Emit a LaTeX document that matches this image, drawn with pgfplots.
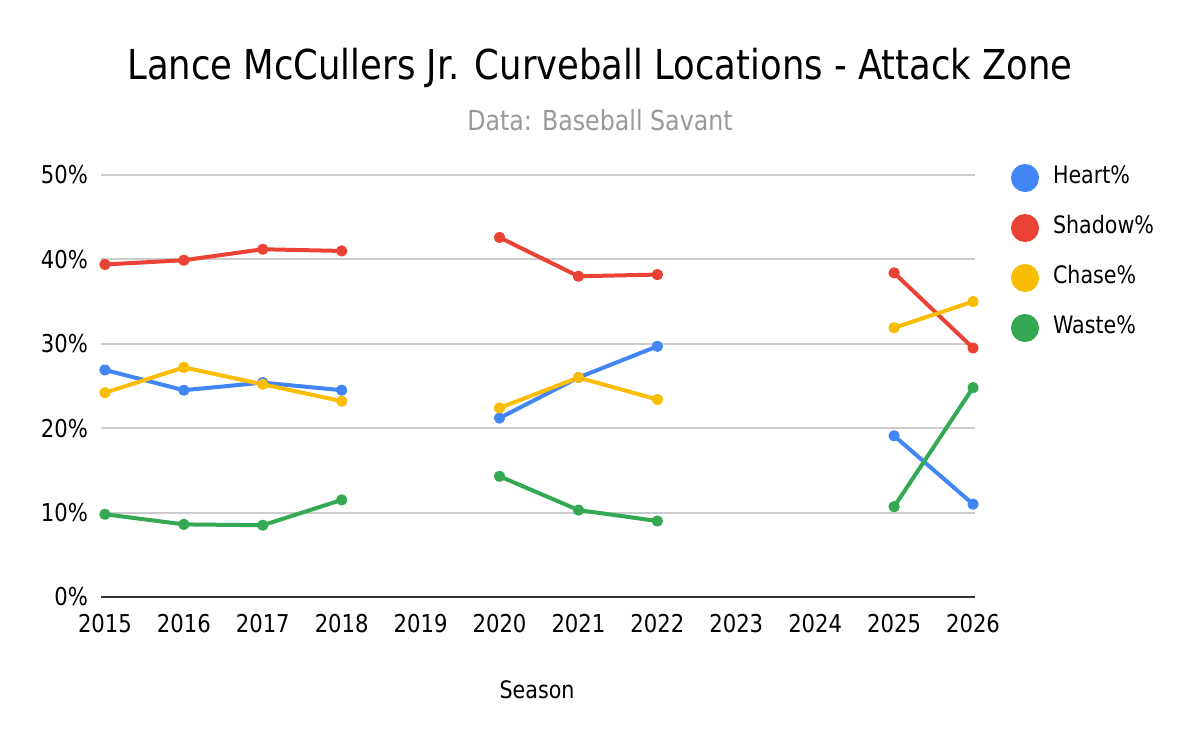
\documentclass[border=0pt]{standalone}
\usepackage{pgfplots}
\pgfplotsset{compat=1.18}
\usepackage{pgfplotstable}
\usepackage{fontspec}
\setmainfont{DejaVu Sans}[FakeStretch=0.86]

\definecolor{heart}{HTML}{4285F4}
\definecolor{shadow}{HTML}{EA4335}
\definecolor{chase}{HTML}{FBBC04}
\definecolor{waste}{HTML}{34A853}
\definecolor{gridgray}{HTML}{CCCCCC}
\definecolor{basegray}{HTML}{333333}
\definecolor{subgray}{HTML}{999999}

% Attack-zone shares of curveballs by season (percent); nan marks seasons without data
\pgfplotstableread{
year heart shadow chase waste
2015 26.9 39.4 24.2 9.8
2016 24.5 39.9 27.2 8.6
2017 25.4 41.2 25.2 8.5
2018 24.5 41.0 23.2 11.5
2019 nan  nan  nan  nan
2020 21.2 42.6 22.4 14.3
2021 26.0 38.0 26.0 10.3
2022 29.7 38.2 23.4 9.0
2023 nan  nan  nan  nan
2025 19.1 38.4 31.9 10.7
2026 11.0 29.5 35.0 24.8
}\zonedata

\begin{document}
\begin{tikzpicture}
\useasboundingbox (0,0) rectangle (600pt,371pt);

\node[anchor=base, font=\fontsize{20.6}{25}\selectfont] at (300pt,331pt)
  {Lance McCullers Jr. Curveball Locations - Attack Zone};
\node[anchor=base, text=subgray, font=\fontsize{13.8}{16}\selectfont] at (300pt,305.5pt)
  {Data: Baseball Savant};

\begin{axis}[
  at={(50.5pt,72.5pt)}, anchor=south west,
  scale only axis, width=437pt, height=211pt,
  xmin=2014.95, xmax=2026.025,
  ymin=0, ymax=50,
  clip=false,
  axis line style={draw=none},
  major tick length=0pt,
  xtick={2015,2016,2017,2018,2019,2020,2021,2022,2023,2024,2025,2026},
  xticklabels={2015,2016,2017,2018,2019,2020,2021,2022,2023,2024,2025,2026},
  ytick={0,10,20,30,40,50},
  yticklabels={0\%,10\%,20\%,30\%,40\%,50\%},
  ymajorgrids,
  grid style={gridgray, line width=1pt},
  extra y ticks={0},
  extra y tick labels={},
  extra y tick style={grid style={basegray, line width=1pt}},
  tick label style={font=\fontsize{12.3}{15}\selectfont, text=black},
  xticklabel style={yshift=-5pt},
  yticklabel style={xshift=-3pt},
  unbounded coords=jump,
  every axis plot/.append style={line width=2pt, mark=*, mark size=1.8pt, line join=round},
  legend image code/.code={\fill (0pt,0pt) circle (6pt);},
  legend style={at={(rel axis cs:1.0412,1.026)}, anchor=north west,
    draw=none, fill=none, inner sep=0pt, outer sep=0pt,
    row sep=11pt, column sep=7pt,
    font=\fontsize{12}{14}\selectfont,
    nodes={inner sep=0pt, text height=8pt, text depth=3pt}},
  legend cell align=left,
]
\addplot[heart, mark options={fill=heart, draw=heart}] table[x=year, y=heart] {\zonedata};
\addlegendentry{Heart\%}
\addplot[shadow, mark options={fill=shadow, draw=shadow}] table[x=year, y=shadow] {\zonedata};
\addlegendentry{Shadow\%}
\addplot[chase, mark options={fill=chase, draw=chase}] table[x=year, y=chase] {\zonedata};
\addlegendentry{Chase\%}
\addplot[waste, mark options={fill=waste, draw=waste}] table[x=year, y=waste] {\zonedata};
\addlegendentry{Waste\%}
\end{axis}

\node[anchor=base, font=\fontsize{12}{14}\selectfont] at (268.5pt,21.5pt) {Season};
\end{tikzpicture}
\end{document}
